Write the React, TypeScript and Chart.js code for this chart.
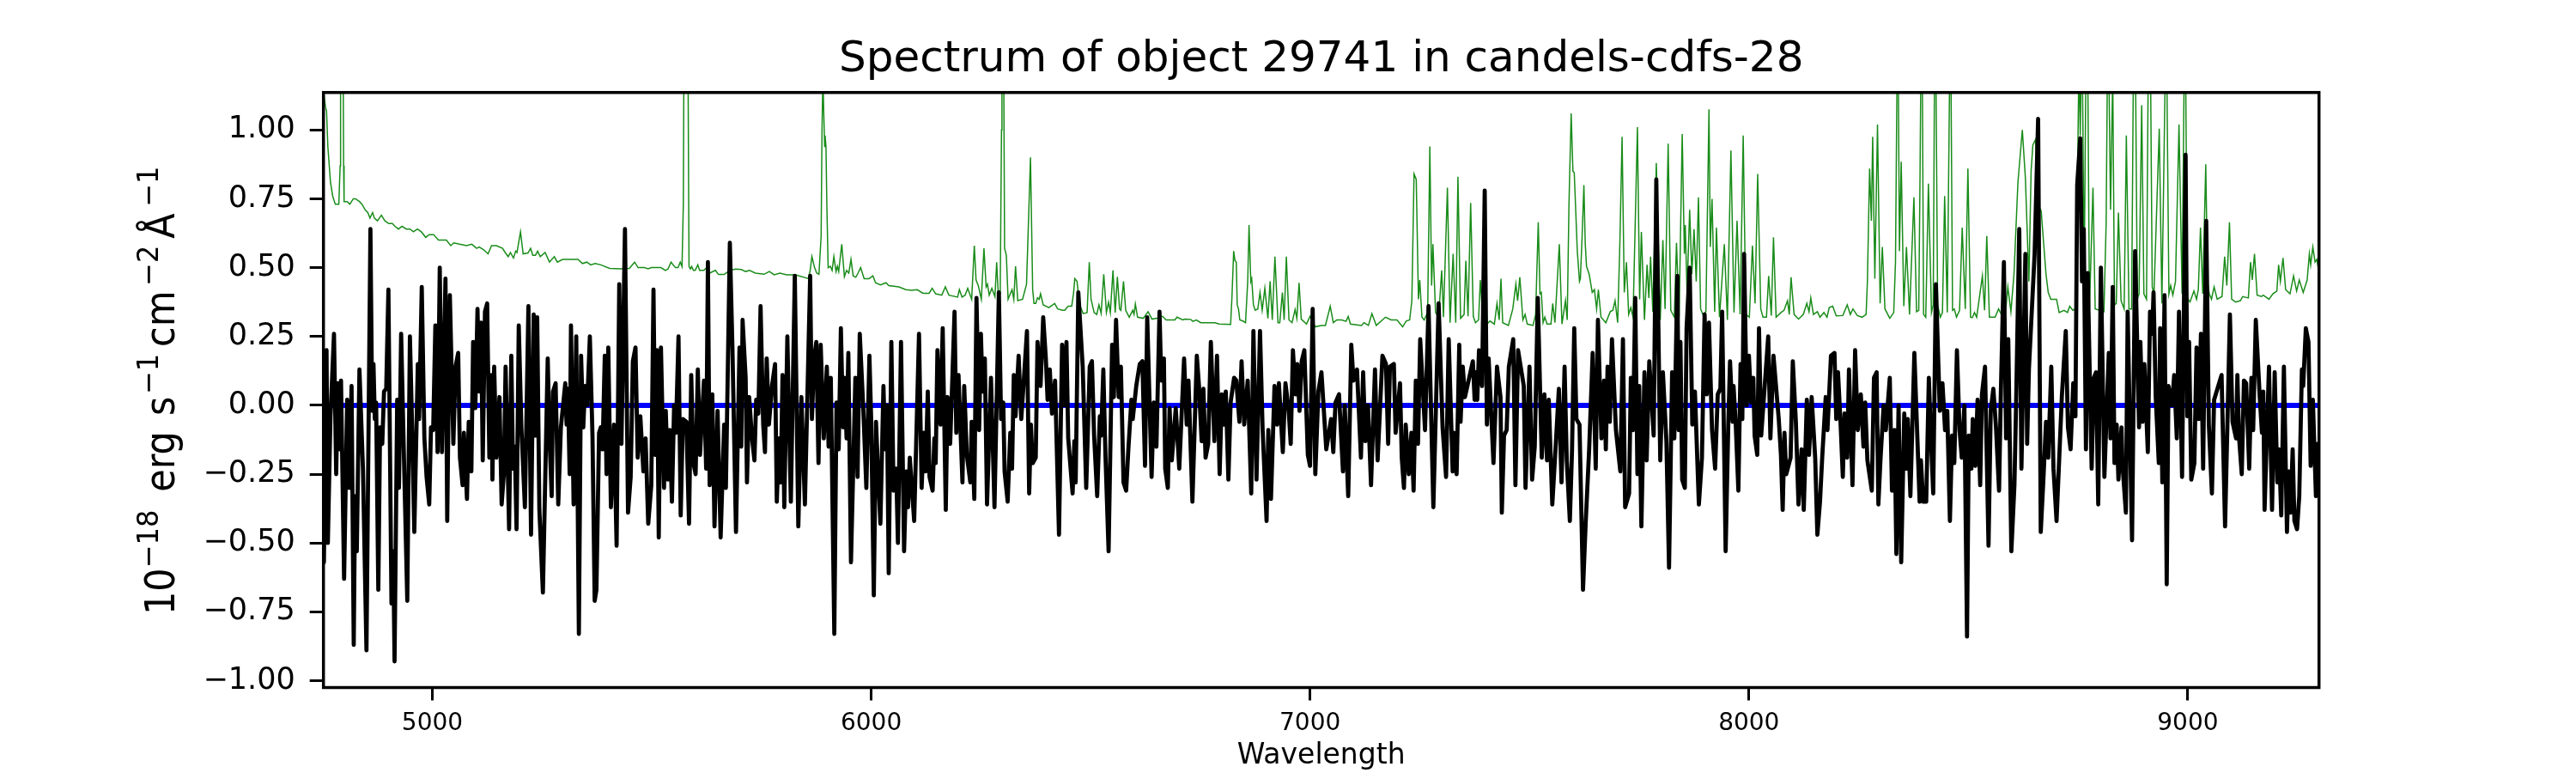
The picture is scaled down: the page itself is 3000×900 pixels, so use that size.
import React, { useEffect, useRef } from "react";
import { Chart, registerables } from "chart.js";

Chart.register(...registerables);

const chartTitle = "Spectrum of object 29741 in candels-cdfs-28";
const xLabel = "Wavelength";
const yLabelParts = ["10", "\u221218", "erg", "s", "\u22121", "cm", "\u22122", "Å", "\u22121"];
const yLabelSuper = [false, true, false, false, true, false, true, false, true];
const yLabelGaps = [0, 0, 21, 18, 2.6, 8, 5.5, 8, 7.6];
const waveTicks = [5000, 6000, 7000, 8000, 9000];
const waveRange = [4752, 9299];
const fluxRange = [-1.025, 1.136];
const zeroLine = [[4752, 0], [9299, 0]];

const fluxA = [[4752,-.57],[4753,-.57],[4759,.2],[4762,-.5],[4768,-.04],[4776,.26],[4781,-.25],[4785,.08],[4789,-.16],[4792,.09],[4799,-.63],[4806,.02],[4811,-.3],[4816,.07],[4821,-.87],[4824,-.33],[4828,-.53],[4834,.13],[4842,-.23],[4850,-.89],[4859,.64],[4863,-.02],[4866,.15],[4869,-.05],[4872,.01],[4877,-.67],[4881,-.08],[4886,-.14],[4890,.05],[4895,.06],[4900,.42],[4907,-.72],[4911,-.53],[4914,-.93],[4920,.02],[4924,-.3],[4929,.26],[4935,-.16],[4943,-.71],[4949,.25],[4954,-.08],[4959,-.46],[4967,.15],[4970,-.05],[4976,.43],[4982,-.12],[4987,-.26],[4993,-.36],[4997,-.08],[5002,-.09],[5007,.29],[5012,-.17],[5017,.5],[5022,-.17],[5030,.46],[5034,-.42],[5040,.4],[5048,-.14],[5053,.14],[5059,.19],[5063,-.19],[5069,-.29],[5072,-.1],[5079,-.34],[5083,-.06],[5089,-.24],[5093,.23],[5098,-.01],[5103,.35],[5107,.05],[5111,.3],[5115,-.2],[5120,.34],[5125,.37],[5130,-.19],[5135,.11],[5137,-.27],[5141,.14],[5146,-.19],[5153,.03],[5158,-.36],[5163,-.25],[5167,.14],[5175,-.45],[5180,.18],[5184,-.23],[5188,-.15],[5192,-.45],[5197,.29],[5203,-.08],[5211,-.37],[5219,.36],[5225,-.47],[5231,.33],[5235,-.11],[5239,.32],[5244,-.38],[5252,-.68],[5263,.17],[5267,-.11],[5272,-.33],[5275,.05],[5281,.08],[5287,-.36],[5293,-.08],[5303,.08],[5306,-.07],[5309,.06],[5313,-.25]];
const fluxB = [[5316,.29],[5322,-.36],[5328,.25],[5334,-.83],[5339,.18],[5344,-.08],[5348,.07],[5353,0],[5359,.25],[5365,-.11],[5370,-.71],[5374,-.67],[5380,-.1],[5384,-.08],[5388,-.16],[5393,.18],[5397,-.25],[5401,.21],[5407,-.37],[5414,-.07],[5420,-.51],[5426,.44],[5431,-.14],[5439,.64],[5446,-.39],[5452,-.26],[5457,.16],[5463,.21],[5468,-.19],[5474,-.04],[5481,-.24],[5486,-.12],[5492,-.43],[5499,-.29],[5504,.42],[5508,-.18],[5512,.2],[5516,-.48],[5521,.21],[5528,-.3],[5532,-.02],[5537,-.27],[5541,-.09],[5546,-.35],[5551,0],[5555,-.1],[5561,.25],[5566,-.4],[5571,-.05],[5579,-.06],[5585,-.43],[5590,.11],[5595,-.21],[5600,-.25],[5605,.13],[5610,-.18],[5619,.09],[5624,-.23],[5628,.52],[5632,-.29],[5638,.04],[5643,-.44],[5650,-.02],[5657,-.48],[5665,-.07],[5669,-.3],[5678,.59],[5684,.2],[5692,-.46],[5700,.21],[5704,-.15],[5707,.31],[5714,.1],[5717,-.28],[5722,.03],[5728,-.11],[5734,-.2],[5738,.02],[5743,-.03],[5748,.36],[5754,-.07],[5758,-.17],[5762,.17],[5767,-.07],[5774,.07],[5781,.15],[5785,-.35],[5790,-.12],[5794,-.28],[5798,.11],[5802,-.37],[5809,.25],[5817,-.35],[5826,.47],[5834,-.44],[5841,.03],[5849,-.36],[5861,.47],[5865,-.05],[5870,.17],[5875,.23]];
const fluxC = [[5880,-.21],[5885,.22],[5892,-.12],[5899,.14],[5903,-.15],[5908,.1],[5916,-.83],[5921,.01],[5926,-.16],[5931,.28],[5936,-.08],[5939,.1],[5944,-.12],[5948,.19],[5954,-.57],[5964,.1],[5969,-.26],[5974,.26],[5982,-.01],[5989,-.3],[5996,.18],[6000,-.05],[6006,-.69],[6011,-.06],[6016,-.25],[6021,-.43],[6028,.07],[6032,-.16],[6036,0],[6040,-.61],[6046,.23],[6051,-.31],[6057,-.23],[6061,-.5],[6068,.23],[6075,-.53],[6080,-.24],[6084,-.37],[6088,-.19],[6098,-.42],[6109,.26],[6115,-.3],[6120,-.1],[6124,-.24],[6129,.05],[6133,-.26],[6140,-.31],[6144,-.12],[6147,-.21],[6151,.2],[6158,-.07],[6163,.28],[6170,-.38],[6174,.03],[6180,-.14],[6190,.34],[6194,-.1],[6199,.11],[6208,-.28],[6212,.07],[6218,-.18],[6226,-.28],[6229,-.06],[6235,-.34],[6240,.39],[6246,-.09],[6250,.26],[6254,.05],[6259,.17],[6264,-.36],[6273,.1],[6281,-.37],[6291,.41],[6296,-.05],[6301,.01],[6304,-.24],[6311,-.35],[6317,-.1],[6321,-.23],[6325,.11],[6329,-.04],[6336,.18],[6342,-.05],[6347,.07],[6355,.27],[6360,-.32],[6364,-.07],[6368,-.21],[6375,-.19],[6379,.23],[6386,.07],[6392,.32],[6398,.17],[6402,.02],[6407,.13],[6412,-.03],[6419,.09],[6428,-.47],[6435,.22],[6440,0],[6445,.23]];
const fluxD = [[6449,-.12],[6459,-.32],[6463,-.13],[6466,-.28],[6472,.41],[6482,.14],[6490,-.3],[6498,.14],[6503,.16],[6508,-.11],[6515,-.33],[6521,-.04],[6524,-.11],[6529,.13],[6534,-.19],[6541,-.53],[6549,.22],[6553,.03],[6558,.31],[6564,.03],[6569,.14],[6575,-.28],[6581,-.31],[6586,-.16],[6593,.02],[6596,-.05],[6604,.07],[6612,.15],[6618,.16],[6624,-.22],[6629,.32],[6639,-.26],[6644,.01],[6650,-.15],[6657,.34],[6661,.09],[6667,.17],[6670,-.23],[6676,-.3],[6680,-.01],[6685,-.2],[6694,-.01],[6702,-.23],[6713,.17],[6719,-.07],[6723,.09],[6732,-.35],[6742,.18],[6747,.07],[6753,-.13],[6757,.06],[6762,-.19],[6768,-.14],[6774,.23],[6782,-.13],[6788,.18],[6794,-.25],[6799,.04],[6805,-.07],[6808,.05],[6814,-.27],[6819,.01],[6827,.1],[6832,.09],[6839,-.06],[6844,.16],[6850,-.07],[6858,.09],[6866,-.32],[6871,.27],[6878,-.27],[6886,.27],[6892,-.09],[6901,-.42],[6905,-.09],[6911,-.34],[6919,.07],[6925,-.07],[6929,.08],[6938,-.17],[6944,.08],[6951,-.01],[6956,-.14],[6961,.2],[6967,.04],[6971,.15],[6976,-.02],[6981,.16],[6987,.2],[6995,-.18],[7000,-.22],[7006,.35]];
const fluxE = [[7012,-.25],[7019,.05],[7026,.12],[7037,-.16],[7048,-.05],[7053,-.17],[7058,.01],[7066,.04],[7075,-.24],[7079,0],[7087,-.33],[7094,.22],[7099,.09],[7107,.13],[7116,-.19],[7121,.12],[7126,-.13],[7132,0],[7139,-.29],[7148,.13],[7154,-.2],[7165,.18],[7173,.15],[7178,-.14],[7182,.14],[7191,.15],[7195,-.1],[7205,.08],[7209,-.19],[7214,-.3],[7218,-.07],[7225,-.25],[7231,-.1],[7236,-.31],[7241,.09],[7246,-.14],[7251,.24],[7257,.06],[7262,-.09],[7270,.36],[7281,-.37],[7293,.37],[7302,-.08],[7310,-.26],[7316,.24],[7325,-.24],[7328,-.1],[7334,-.25],[7340,.22],[7343,-.06],[7348,.14],[7353,.03],[7371,.16],[7375,.02],[7378,.12],[7381,.02],[7385,.2],[7392,.07],[7398,.78],[7403,-.07],[7407,.17],[7418,-.21],[7426,.14],[7434,.03],[7437,-.39],[7442,-.11],[7448,-.09],[7453,.14],[7463,.24],[7468,-.29],[7474,.2],[7487,.07],[7491,-.3],[7500,.14],[7506,-.27],[7512,-.15],[7519,.39],[7528,-.19],[7534,.04],[7540,-.2],[7544,.02],[7552,-.36],[7560,-.14],[7567,.06],[7573,-.28],[7580,.14]];
const fluxF = [[7585,-.2],[7592,-.42],[7597,-.16],[7602,.28],[7607,-.05],[7614,-.07],[7622,-.67],[7628,-.43],[7636,-.16],[7644,.19],[7651,-.23],[7656,.31],[7664,-.12],[7670,.09],[7674,-.16],[7678,.14],[7683,-.06],[7688,.24],[7697,-.09],[7707,-.24],[7713,.24],[7718,-.37],[7727,-.32],[7731,.1],[7736,-.09],[7741,.39],[7746,-.25],[7750,.07],[7755,-.44],[7762,.12],[7767,-.2],[7773,.16],[7783,-.11],[7789,.82],[7798,-.2],[7804,.12],[7812,-.13],[7818,-.59],[7825,.12],[7830,-.12],[7837,.47],[7840,-.09],[7844,.23],[7848,-.27],[7854,-.3],[7858,.28],[7865,.5],[7871,-.07],[7877,.05],[7886,-.36],[7893,-.19],[7899,.33],[7904,.04],[7909,.3],[7916,-.09],[7923,-.23],[7929,.04],[7935,.06],[7939,.34],[7947,-.53],[7953,-.07],[7957,.16],[7963,-.06],[7965,.07],[7970,-.07],[7976,-.31],[7981,.15],[7985,-.05],[7989,.55],[7995,0],[8000,.18],[8005,.01],[8010,.1],[8013,-.11],[8019,-.18],[8023,.28],[8028,-.11],[8036,.07],[8044,.25],[8049,-.12],[8056,.18],[8068,-.05],[8073,-.18],[8077,-.38],[8081,-.1],[8085,-.25],[8095,-.19],[8100,.16],[8107,-.06],[8113,-.36],[8120,-.16],[8125,-.38],[8132,.02],[8137,-.18],[8143,.03]];
const fluxG = [[8151,-.19],[8156,-.47],[8162,-.35],[8167,-.19],[8175,.03],[8179,-.09],[8187,.18],[8195,.19],[8199,-.05],[8203,.12],[8209,-.07],[8214,-.26],[8218,-.03],[8224,-.19],[8228,.13],[8236,-.29],[8242,.2],[8248,-.09],[8255,.04],[8261,-.15],[8265,.01],[8270,-.2],[8280,-.31],[8285,.1],[8291,.12],[8295,-.36],[8300,-.19],[8307,0],[8312,-.09],[8321,.1],[8326,-.31],[8332,-.09],[8336,-.54],[8341,0],[8347,-.57],[8354,-.03],[8359,-.23],[8362,-.05],[8368,-.33],[8377,.19],[8389,-.35],[8392,-.2],[8397,-.35],[8404,-.35],[8410,.1],[8415,-.13],[8420,-.32],[8426,.44],[8435,-.02],[8441,.08],[8447,-.09],[8452,-.02],[8458,-.42],[8463,-.11],[8468,-.21],[8474,.2],[8480,-.09],[8485,-.19],[8491,0],[8497,-.84],[8501,-.11],[8507,-.23],[8510,-.05],[8516,-.22],[8521,.02],[8527,-.29],[8531,.04],[8538,.14],[8546,-.51],[8551,-.02],[8557,.06],[8563,-.08],[8570,-.31],[8574,.04],[8581,.52],[8586,-.12],[8591,.24],[8598,-.53],[8605,-.29],[8609,.02],[8616,.64],[8621,-.23],[8630,.55],[8634,-.14],[8638,.13],[8651,.55],[8659,1.04],[8665,-.46],[8671,-.27],[8677,-.06],[8682,-.19],[8689,.14],[8694,-.23],[8701,-.42],[8713,.03],[8722,.27]];
const fluxH = [[8727,-.08],[8733,-.16],[8739,.08],[8744,-.04],[8748,.8],[8755,.97],[8759,.45],[8763,.64],[8768,-.16],[8772,.48],[8781,-.23],[8786,.1],[8791,.12],[8796,-.36],[8802,.5],[8810,-.26],[8820,.19],[8824,-.12],[8829,.43],[8833,-.21],[8838,-.07],[8842,-.27],[8849,-.08],[8851,-.21],[8859,-.39],[8863,.34],[8873,-.49],[8880,.56],[8889,-.08],[8892,.23],[8897,-.06],[8901,.15],[8909,-.17],[8914,.34],[8919,.26],[8922,.41],[8927,.03],[8934,-.21],[8937,.28],[8942,-.28],[8947,.4],[8952,-.65],[8956,.07],[8964,0],[8969,.11],[8975,-.12],[8980,.34],[8987,-.26],[8995,.91],[8999,-.04],[9003,.23],[9008,-.27],[9015,-.21],[9020,.21],[9025,-.05],[9030,.26],[9035,-.23],[9042,.67],[9048,-.07],[9055,-.32],[9060,.02],[9077,.11],[9085,-.44],[9096,.33],[9102,-.06],[9110,-.12],[9113,.11],[9117,-.12],[9123,-.25],[9128,.09],[9133,.08],[9140,-.23],[9145,.1],[9149,-.09],[9155,.31],[9164,.03],[9169,-.1],[9172,.05],[9175,-.38],[9185,.14],[9192,-.38],[9198,.12],[9204,-.28],[9208,-.16],[9213,-.4],[9219,.14],[9226,-.46],[9230,-.24],[9234,-.39],[9239,-.16],[9243,-.42],[9249,-.45],[9254,-.33],[9260,.13],[9263,.07],[9269,.28],[9275,.23],[9280,-.22],[9285,.02],[9292,-.33],[9295,-.14],[9299,-.33]];

const noiseA = [[4752,1.14],[4757,1.08],[4759,1.07],[4762,.94],[4768,.81],[4773,.76],[4779,.73],[4787,.73],[4790,.87],[4791,1.5],[4796,1.5],[4798,.87],[4799,.74],[4806,.74],[4812,.73],[4816,.74],[4820,.75],[4825,.75],[4834,.74],[4840,.73],[4847,.71],[4853,.7],[4858,.68],[4864,.7],[4868,.68],[4875,.67],[4884,.69],[4892,.67],[4901,.66],[4909,.66],[4915,.65],[4923,.64],[4931,.65],[4941,.64],[4949,.64],[4957,.63],[4966,.64],[4975,.63],[4985,.61],[4993,.62],[5003,.62],[5014,.6],[5026,.6],[5032,.6],[5042,.58],[5049,.59],[5062,.585],[5078,.58],[5090,.585],[5101,.57],[5107,.575],[5117,.565],[5127,.55],[5135,.58],[5146,.58],[5160,.57],[5166,.555],[5173,.54],[5178,.555],[5185,.535],[5190,.56],[5193,.555],[5201,.63],[5207,.55],[5218,.553],[5224,.57],[5229,.545],[5235,.545],[5240,.56],[5246,.54],[5257,.555],[5267,.52],[5278,.54],[5285,.52],[5297,.53],[5313,.53],[5326,.53]];
const noiseB = [[5332,.53],[5342,.515],[5352,.52],[5361,.51],[5371,.515],[5384,.51],[5404,.497],[5430,.496],[5449,.497],[5461,.52],[5469,.5],[5483,.5],[5492,.496],[5499,.5],[5521,.5],[5531,.49],[5537,.495],[5544,.52],[5554,.5],[5560,.5],[5565,.52],[5569,.504],[5572,.73],[5574,1.5],[5582,1.5],[5584,.8],[5585,.504],[5588,.495],[5591,.504],[5595,.49],[5599,.49],[5605,.51],[5609,.49],[5619,.49],[5625,.5],[5632,.48],[5645,.49],[5652,.475],[5665,.475],[5678,.49],[5691,.495],[5704,.493],[5714,.486],[5723,.49],[5736,.48],[5756,.476],[5768,.486],[5779,.474],[5792,.48],[5808,.474],[5828,.474],[5857,.46],[5861,.49],[5865,.54],[5871,.5],[5876,.48],[5881,.476]];
const noiseC = [[5886,.615],[5888,1],[5890,1.2],[5892,1.06],[5894,.94],[5895,.98],[5897,.94],[5899,.73],[5902,.5],[5907,.505],[5911,.49],[5915,.54],[5920,.486],[5923,.505],[5926,.486],[5933,.585],[5939,.467],[5944,.49],[5949,.48],[5954,.53],[5959,.47],[5965,.465],[5970,.48],[5976,.5],[5984,.46],[5995,.46],[6004,.47],[6010,.445],[6021,.437],[6034,.445],[6040,.435],[6063,.43],[6079,.42],[6092,.418],[6105,.42],[6118,.407],[6132,.407],[6139,.425],[6147,.405],[6161,.4],[6169,.43],[6177,.4],[6197,.393],[6201,.42],[6207,.393],[6214,.4],[6220,.425],[6229,.385],[6235,.58],[6239,.455],[6244,.435],[6251,.385],[6257,.57],[6262,.43],[6265,.44],[6269,.4],[6275,.425],[6282,.395],[6286,.52],[6290,.39],[6294,.405],[6297,1],[6298,1.25],[6302,1.25],[6304,.57],[6308,.545],[6312,.385],[6317,.405],[6321,.42],[6325,.385],[6329,.505],[6334,.38],[6345,.385],[6354,.44],[6363,.9],[6368,.42],[6371,.37],[6375,.37],[6379,.39],[6383,.385],[6386,.405],[6392,.365],[6405,.355],[6414,.365],[6418,.37],[6425,.35],[6436,.345]];
const noiseD = [[6441,.345],[6449,.36],[6457,.36],[6461,.405],[6464,.46],[6469,.45],[6475,.365],[6483,.333],[6492,.337],[6497,.52],[6501,.385],[6508,.337],[6514,.33],[6519,.365],[6524,.334],[6530,.476],[6536,.337],[6541,.375],[6545,.337],[6551,.49],[6556,.337],[6561,.467],[6566,.35],[6569,.345],[6575,.45],[6580,.345],[6588,.32],[6596,.345],[6599,.33],[6602,.368],[6607,.32],[6620,.316],[6631,.34],[6640,.313],[6651,.316],[6664,.323],[6672,.31],[6692,.31],[6697,.32],[6710,.31],[6715,.313],[6728,.312],[6733,.305],[6741,.31],[6751,.3],[6783,.3],[6793,.295],[6819,.294],[6822,.39],[6826,.56],[6829,.525],[6832,.52],[6834,.365],[6837,.35],[6840,.31],[6847,.306],[6853,.3],[6858,.45],[6861,.655],[6865,.45],[6867,.46],[6871,.365],[6875,.345],[6881,.35],[6886,.41],[6891,.345],[6897,.425],[6904,.316],[6909,.45],[6914,.31],[6920,.54],[6927,.3],[6931,.3],[6937,.41],[6941,.31],[6946,.54],[6952,.31],[6959,.3],[6966,.348],[6970,.316],[6975,.445],[6980,.313],[6992,.295],[7000,.323]];
const noiseE = [[7012,.285],[7025,.29],[7035,.29],[7046,.36],[7053,.3],[7061,.31],[7072,.31],[7082,.305],[7087,.323],[7092,.295],[7117,.29],[7123,.3],[7133,.29],[7141,.333],[7151,.29],[7172,.32],[7185,.31],[7198,.31],[7211,.285],[7219,.306],[7227,.31],[7232,.38],[7237,.84],[7242,.82],[7247,.385],[7250,.455],[7255,.32],[7260,.31],[7268,.337],[7273,.94],[7277,.435],[7280,.585],[7286,.337],[7293,.32],[7300,.49],[7304,.32],[7313,.79],[7319,.3],[7326,.55],[7332,.3],[7337,.83],[7343,.316],[7351,.33],[7355,.525],[7360,.323],[7366,.735],[7372,.323],[7377,.3],[7384,.31],[7388,.455],[7394,.31],[7403,.295],[7410,.306],[7420,.295],[7426,.37],[7431,.31],[7435,.46],[7439,.3],[7452,.29],[7462,.35],[7469,.44],[7473,.38],[7478,.465],[7485,.31],[7490,.33],[7495,.295],[7508,.29],[7514,.33],[7520,.665],[7524,.405],[7527,.41],[7531,.3],[7535,.32],[7540,.295],[7549,.295],[7553,.37],[7558,.3],[7568,.585],[7574,.295]];
const noiseF = [[7582,.38],[7586,.31],[7590,.73],[7595,1.06],[7599,.85],[7602,.845],[7609,.56],[7614,.45],[7616,.46],[7620,.615],[7624,.8],[7627,.59],[7630,.505],[7636,.476],[7643,.41],[7648,.42],[7653,.35],[7657,.42],[7663,.32],[7674,.3],[7684,.34],[7690,.345],[7695,.38],[7701,.3],[7706,.59],[7711,.975],[7716,.41],[7721,.52],[7726,.33],[7731,.355],[7736,.32],[7746,1.01],[7751,.385],[7755,.63],[7762,.31],[7768,.51],[7772,.39],[7776,.54],[7781,.34],[7789,.88],[7798,.31],[7804,.6],[7809,.35],[7816,.95],[7822,.345],[7830,.32],[7835,.59],[7841,.32],[7848,.985],[7853,.55],[7855,.655],[7859,.41],[7865,.71],[7870,.476],[7875,.64],[7880,.45],[7885,.755],[7890,.35],[7895,.33],[7902,.34],[7909,1.075],[7912,.575],[7916,.75],[7922,.34],[7926,.645],[7933,.32],[7944,.585],[7951,.31],[7959,.925],[7966,.337],[7973,.67],[7980,.33],[7987,.98],[7993,.33],[8001,.32],[8008,.58],[8014,.37],[8020,.84],[8027,.35],[8032,.32],[8040,.32],[8045,.47],[8051,.326],[8056,.61],[8062,.32],[8073,.337],[8080,.345],[8088,.38],[8092,.33],[8096,.465],[8103,.33],[8113,.313],[8124,.33],[8132,.37],[8137,.34],[8141,.39]];
const noiseG = [[8147,.33],[8156,.34],[8162,.32],[8171,.337],[8178,.32],[8183,.355],[8191,.36],[8199,.325],[8214,.326],[8224,.365],[8231,.33],[8237,.35],[8247,.326],[8258,.32],[8267,.33],[8270,.45],[8275,.86],[8279,.67],[8282,.975],[8287,.46],[8293,1.02],[8299,.37],[8304,.575],[8310,.35],[8321,.316],[8330,.337],[8334,.52],[8338,1.3],[8340,1.3],[8343,.56],[8347,.885],[8353,.36],[8359,.575],[8366,.33],[8376,.755],[8382,.34],[8387,.345],[8390,.85],[8392,1.25],[8395,1.25],[8398,.33],[8403,.32],[8409,.805],[8416,.337],[8420,.365],[8423,1.25],[8426,1.25],[8430,.365],[8436,.32],[8441,.337],[8446,.76],[8452,.337],[8458,1.3],[8460,1.3],[8464,.345],[8468,.35],[8473,.32],[8480,.345],[8486,.645],[8493,.35],[8499,.86],[8505,.32],[8509,.318],[8514,.337],[8519,.32],[8532,.47],[8537,.345],[8542,.615],[8548,.32],[8561,.32],[8569,.35],[8578,.32],[8584,.325],[8590,.43],[8597,.34],[8604,.476],[8613,.81],[8623,1],[8630,.825],[8638,.45],[8643,.85],[8647,.945],[8653,.965],[8659,.73],[8666,.705],[8672,.58],[8677,.476],[8682,.41],[8688,.385],[8701,.385],[8707,.337],[8718,.345]];
const noiseH = [[8726,.337],[8731,.36],[8738,.345],[8744,.35],[8748,.73],[8752,1.25],[8755,.98],[8757,1.2],[8760,1.2],[8764,.476],[8768,1.25],[8772,1.25],[8776,.35],[8784,.79],[8789,.35],[8799,.345],[8809,.34],[8814,.66],[8817,1.25],[8820,1.25],[8824,.71],[8829,1.2],[8833,.365],[8837,.37],[8842,.7],[8848,.38],[8855,.35],[8860,.98],[8866,.35],[8872,.35],[8876,1.2],[8881,1.2],[8885,.385],[8889,.405],[8895,1.09],[8900,.405],[8906,.385],[8910,1.25],[8915,1.25],[8919,.43],[8923,.405],[8935,1.005],[8941,.37],[8949,1.25],[8952,1.25],[8957,.405],[8961,.435],[8966,.4],[8972,.45],[8980,1.02],[8987,.405],[8992,1.25],[8995,1.25],[8999,.39],[9005,.375],[9014,.415],[9020,.385],[9024,.42],[9029,.645],[9034,.405],[9041,.875],[9045,.45],[9049,.405],[9054,.385],[9060,.43],[9067,.385],[9078,.395],[9084,.54],[9089,.435],[9095,.665],[9100,.385],[9109,.375],[9120,.38],[9125,.395],[9138,.39],[9143,.52],[9147,.455],[9152,.55],[9158,.4],[9168,.395],[9172,.4],[9185,.385],[9194,.405],[9203,.415],[9207,.51],[9211,.45],[9217,.535],[9223,.42],[9233,.405],[9241,.47],[9248,.415],[9254,.455],[9263,.41],[9272,.455],[9277,.55],[9280,.51],[9285,.575],[9290,.52],[9294,.53],[9296,.51],[9299,.52]];

const fluxPairs = [...fluxA, ...fluxB, ...fluxC, ...fluxD, ...fluxE, ...fluxF, ...fluxG, ...fluxH];
const noisePairs = [...noiseA, ...noiseB, ...noiseC, ...noiseD, ...noiseE, ...noiseF, ...noiseG, ...noiseH];
const toPoints = (p: number[][]) => p.map(([x, y]) => ({ x, y }));

const decorations = {
  id: "decorations",
  afterLayout(chart: any) {
    const block = chart.titleBlock;
    if (block) {
      block.left = chart.chartArea.left;
      block.right = chart.chartArea.right;
    }
  },
  afterDatasetsDraw(chart: any) {
    const { ctx, chartArea: a } = chart;
    ctx.save();
    ctx.strokeStyle = "#000";
    ctx.lineWidth = 3.5;
    ctx.strokeRect(a.left, a.top, a.right - a.left, a.bottom - a.top);
    ctx.restore();
  },
  afterDraw(chart: any) {
    const { ctx } = chart;
    let along = 716;
    ctx.save();
    ctx.fillStyle = "#000";
    ctx.textBaseline = "alphabetic";
    ctx.textAlign = "left";
    yLabelParts.forEach((part, i) => {
      const sup = yLabelSuper[i];
      along -= yLabelGaps[i];
      ctx.font = `${sup ? 32 : 43}px 'DejaVu Sans'`;
      ctx.save();
      ctx.translate(sup ? 184 : 203, along);
      ctx.rotate(-Math.PI / 2);
      ctx.scale(1, sup ? 1.07 : 1.12);
      ctx.fillText(part, 0, 0);
      ctx.restore();
      along -= ctx.measureText(part).width;
    });
    ctx.restore();
  },
};

export default function App() {
  const ref = useRef<HTMLCanvasElement>(null);
  useEffect(() => {
    document.body.style.margin = "0";
    document.body.style.background = "#fff";
    const chart = new Chart(ref.current as any, {
      type: "line",
      data: {
        datasets: [
          { label: "error", data: toPoints(noisePairs), borderColor: "rgba(0,128,0,0.9)", borderWidth: 1.5, order: 3, clip: 0 },
          { label: "zero", data: toPoints(zeroLine), borderColor: "#0000ff", borderWidth: 6, order: 2, clip: 0 },
          { label: "flux", data: toPoints(fluxPairs), borderColor: "#000", borderWidth: 4.8, borderJoinStyle: "round", order: 1, clip: 0 },
        ] as any,
      },
      plugins: [decorations],
      options: {
        responsive: false,
        animation: false,
        devicePixelRatio: 1,
        font: { family: "'DejaVu Sans'" },
        layout: { padding: { left: 0, right: 299.3, top: 0, bottom: 0 } },
        elements: { point: { radius: 0 }, line: { tension: 0 } },
        plugins: {
          legend: { display: false },
          tooltip: { enabled: false },
          title: {
            display: true,
            text: chartTitle,
            color: "#000",
            align: "center",
            font: { family: "'DejaVu Sans'", size: 50, weight: "normal" },
            padding: { top: 40, bottom: 7.7 },
          },
        },
        scales: {
          x: {
            type: "linear",
            min: waveRange[0],
            max: waveRange[1],
            border: { display: false },
            grid: { drawOnChartArea: false, drawTicks: true, tickLength: 15, tickWidth: 3, tickColor: "#000" },
            afterBuildTicks: (s: any) => { s.ticks = waveTicks.map((value) => ({ value })); },
            ticks: {
              autoSkip: false,
              maxRotation: 0,
              color: "#000",
              padding: 10,
              font: { family: "'DejaVu Sans'", size: 28 },
              callback: (v: any) => String(v),
            },
            title: {
              display: true,
              text: xLabel,
              color: "#000",
              font: { family: "'DejaVu Sans'", size: 33 },
              padding: { top: 0, bottom: 0 },
            },
            afterFit: (s: any) => { s.height = 99.5; },
          },
          y: {
            type: "linear",
            min: fluxRange[0],
            max: fluxRange[1],
            border: { display: false },
            grid: { drawOnChartArea: false, drawTicks: true, tickLength: 16, tickWidth: 3, tickColor: "#000" },
            ticks: {
              stepSize: 0.25,
              includeBounds: false,
              autoSkip: false,
              color: "#000",
              padding: 17,
              font: { family: "'DejaVu Sans'", size: 35 },
              callback: (v: any) => Number(v).toFixed(2).replace("-", "\u2212"),
            },
            title: { display: false },
            afterFit: (s: any) => { s.width = 376.7; },
          },
        },
      } as any,
    });
    return () => chart.destroy();
  }, []);
  return <canvas ref={ref} width={3000} height={900} style={{ display: "block", width: 3000, height: 900 }} />;
}
